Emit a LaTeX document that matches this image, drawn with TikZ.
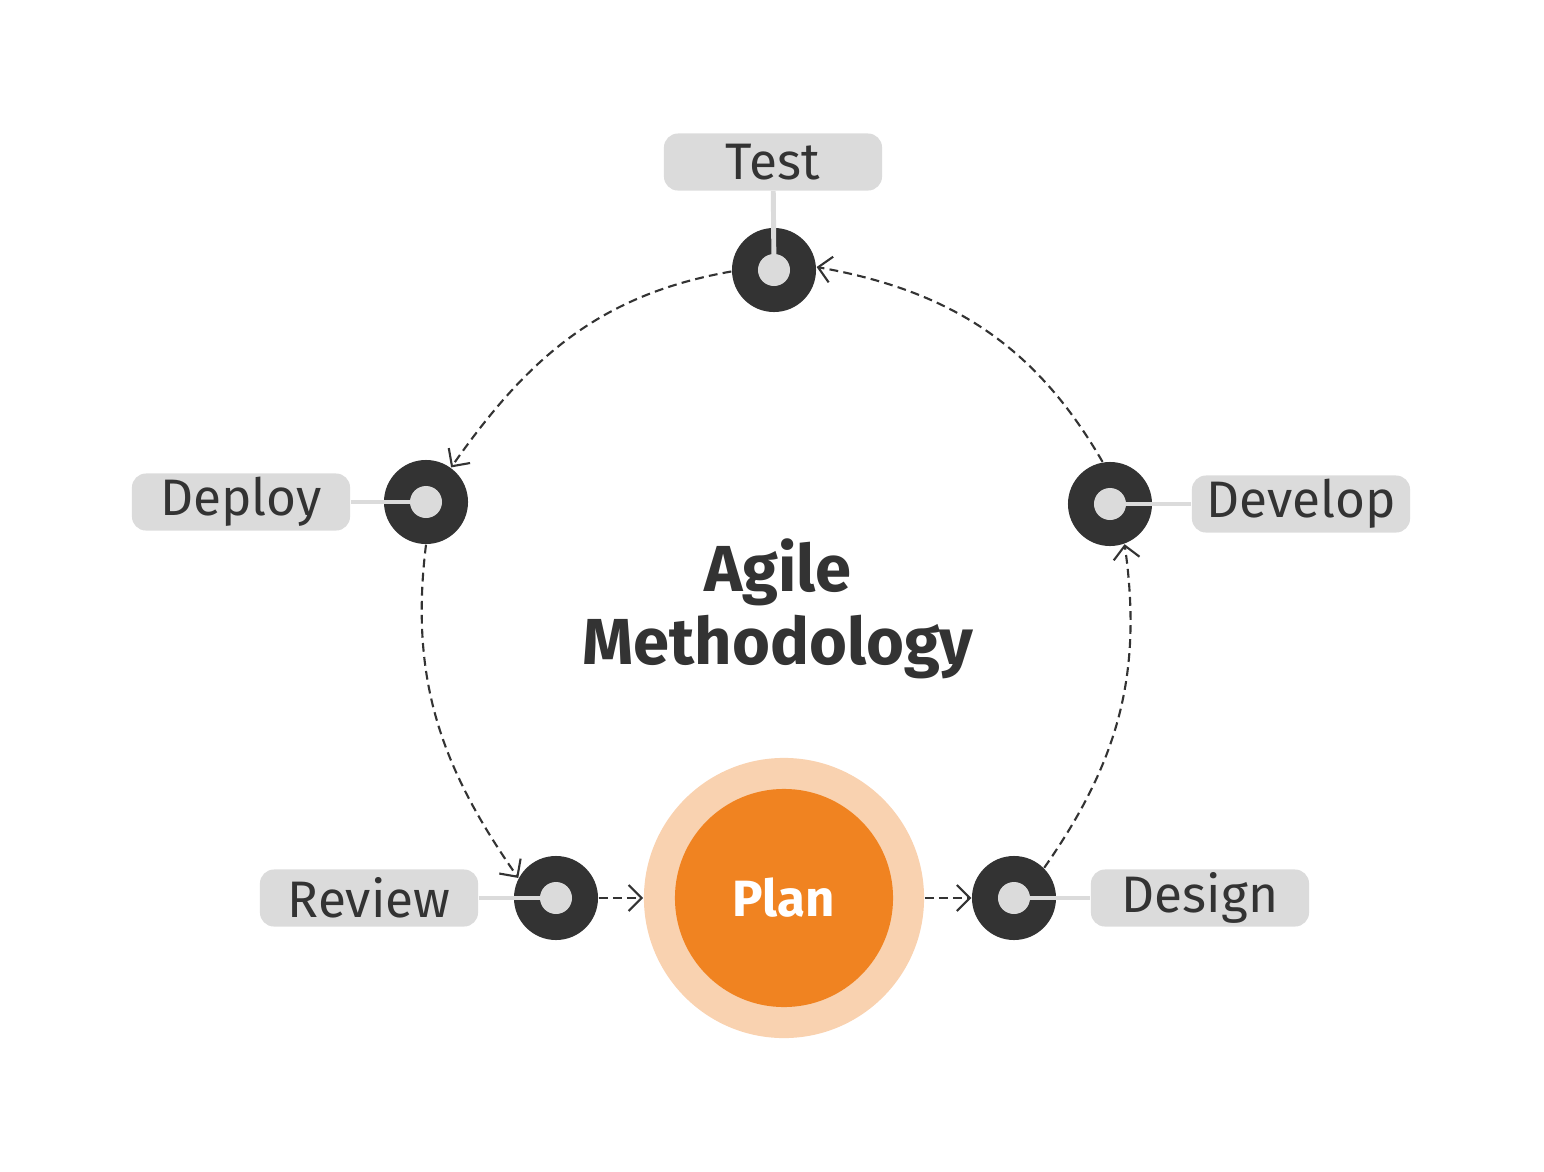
\documentclass[tikz,border=0pt]{standalone}
\usepackage{fontspec}
\setmainfont{Fira Sans}
\usepackage{xcolor}
\usepackage{tikz}
\usetikzlibrary{arrows.meta}
\definecolor{ringgray}{RGB}{51, 51, 51}
\definecolor{taggray}{RGB}{219, 219, 219}
\definecolor{planorange}{RGB}{240, 131, 33}
\definecolor{planpeach}{RGB}{249, 210, 176}

\begin{document}
\begin{tikzpicture}[x = 0.01cm, y = 0.01cm,
	ring/.style = {circle, fill = ringgray, minimum size = 0.84cm, inner sep = 0pt},
	dot/.style = {circle, fill = taggray, minimum size = 0.32cm, inner sep = 0pt},
	tag/.style = {rounded corners = 0.14cm, fill = taggray, minimum width = 2.18cm, minimum height = 0.57cm, inner sep = 0pt, text = ringgray, font = \fontsize{14.6}{17}\selectfont},
	stem/.style = {draw = taggray, line width = 1.4pt},
	flow/.style = {draw = ringgray, line width = 0.6pt, dash pattern = on 2.5pt off 1.5pt, -{Straight Barb[length = 1.3mm, width = 2.6mm]}}]
	\useasboundingbox (0,0) rectangle (1544,-1172);
	% the five stages
	\node (testtag) at (773,-162) [tag] {Test};
	\node (deploytag) at (241,-502) [tag] {Deploy};
	\node (developtag) at (1301,-504) [tag] {Develop};
	\node (reviewtag) at (369,-898) [tag] {Review};
	\node (designtag) at (1200,-898) [tag] {Design};
	\node (testring) at (774,-270) [ring] {};
	\node (deployring) at (426,-502) [ring] {};
	\node (developring) at (1110,-504) [ring] {};
	\node (reviewring) at (556,-898) [ring] {};
	\node (designring) at (1014,-898) [ring] {};
	\draw[stem] (testtag) -- (testring.center);
	\draw[stem] (deploytag) -- (deployring.center);
	\draw[stem] (developtag) -- (developring.center);
	\draw[stem] (reviewtag) -- (reviewring.center);
	\draw[stem] (designtag) -- (designring.center);
	\node (testdot) at (testring) [dot] {};
	\node (deploydot) at (deployring) [dot] {};
	\node (developdot) at (developring) [dot] {};
	\node (reviewdot) at (reviewring) [dot] {};
	\node (designdot) at (designring) [dot] {};
	% plan in the middle
	\node (planouter) at (784,-898) [circle, fill = planpeach, minimum size = 2.80cm] {};
	\node (plan) at (784,-898) [circle, fill = planorange, minimum size = 2.18cm, text = white, font = \fontsize{14.5}{17}\selectfont\bfseries] {Plan};
	\node (title) at (778,-609) [align = center, text = ringgray, font = \fontsize{18.5}{20.8}\selectfont\bfseries] {Agile\\Methodology};
	% the cycle
	\draw[flow] (reviewring) -- (planouter);
	\draw[flow] (planouter) -- (designring);
	\draw[flow] (designring.45) to[out = 55, in = -82] (developring.-70);
	\draw[flow] (developring.100) to[out = 120, in = -10] (testring.4);
	\draw[flow] (testring.182) to[out = 190, in = 55] (deployring.54);
	\draw[flow] (deployring.-90) to[out = -97, in = 125] (reviewring.152);
\end{tikzpicture}
\end{document}
